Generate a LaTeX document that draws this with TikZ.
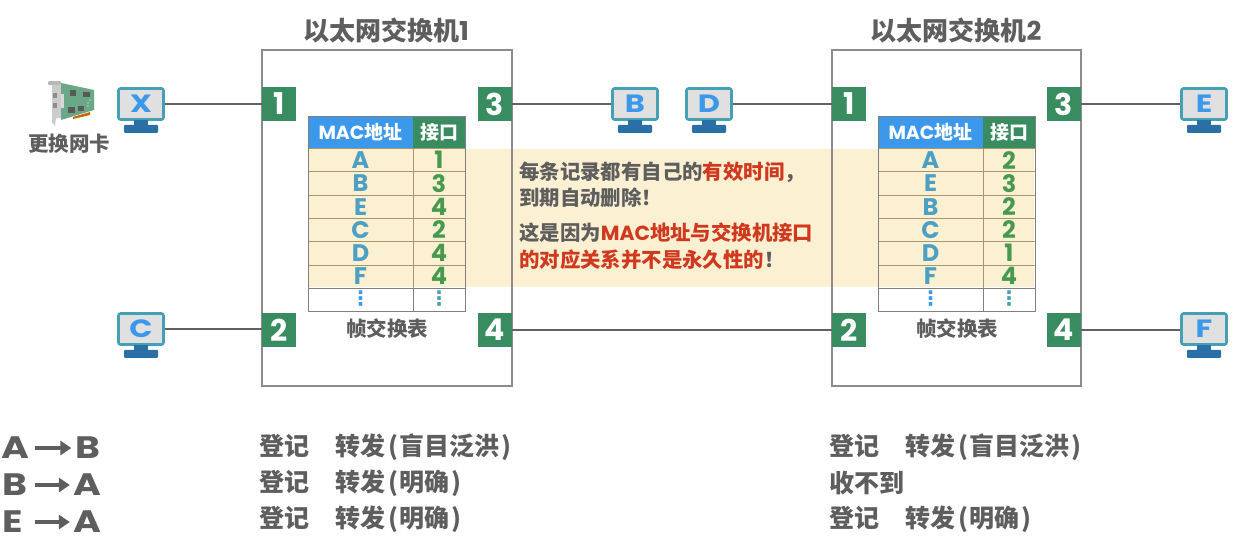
\documentclass[tikz,border=0pt]{standalone}
\usepackage{fontspec}
\usetikzlibrary{arrows.meta}
\setmainfont{Noto Sans CJK SC}
\newfontfamily\lat{Poppins}[BoldFont=* Bold]
\newfontfamily\latw{Poppins}[BoldFont=* Bold,FakeStretch=1.22]
\newfontfamily\dej{DejaVu Sans}
\definecolor{txt}{HTML}{5E5E5E}
\definecolor{hdrblue}{HTML}{3C98EA}
\definecolor{portgreen}{HTML}{398B60}
\definecolor{band}{HTML}{FBF0D2}
\definecolor{macblue}{HTML}{4E9FC4}
\definecolor{numgreen}{HTML}{46994E}
\definecolor{redt}{HTML}{D0391F}
\definecolor{scr}{HTML}{45A0B5}
\definecolor{stand}{HTML}{2A6FA6}
\definecolor{gridb}{HTML}{A8966C}
\newcommand{\mm}[1]{{\lat\bfseries #1}}
\tikzset{
  x=1pt,y=-1pt,
  switchbox/.style={draw=black!45,line width=1.1pt,fill=none},
  port/.style={fill=portgreen,text=white,minimum size=34pt,inner sep=0pt,font=\lat\fontsize{30}{30}\selectfont\bfseries},
  screen/.style={draw=scr,fill=black!12,line width=2.6pt,rounded corners=2pt,minimum width=45pt,minimum height=31pt,inner sep=0pt,text=hdrblue,font=\latw\fontsize{25}{25}\selectfont\bfseries},
  link/.style={draw=black!62,line width=1.4pt},
  hdr/.style={text=white,font=\fontsize{19}{19}\selectfont\bfseries,inner sep=0pt},
  macl/.style={text=macblue,font=\lat\fontsize{24}{24}\selectfont\bfseries,inner sep=0pt},
  numl/.style={text=numgreen,font=\lat\fontsize{24}{24}\selectfont\bfseries,inner sep=0pt},
  grey/.style={text=txt,font=\fontsize{20.5}{20.5}\selectfont\bfseries,inner sep=0pt},
  title/.style={text=txt,font=\fontsize{26}{26}\selectfont\bfseries,inner sep=0pt},
  note/.style={text=txt,font=\fontsize{20.4}{20.4}\selectfont\bfseries,inner sep=0pt,anchor=west},
  row/.style={text=txt,font=\fontsize{25}{25}\selectfont\bfseries,inner sep=0pt,anchor=west},
  big/.style={text=txt,font=\latw\fontsize{31}{31}\selectfont\bfseries,inner sep=0pt},
  flow/.style={draw=txt,line width=3.4pt,-{Triangle[length=11pt,width=14pt]}},
}
\newcommand{\pcicon}[3]{% name, position, letter
  \node[screen] (#1) at (#2) {#3};
  \fill[stand] ([xshift=-7pt,yshift=1pt]#1.south) rectangle ([xshift=7pt,yshift=-5pt]#1.south);
  \fill[stand,rounded corners=1pt] ([xshift=-17pt,yshift=-4pt]#1.south) rectangle ([xshift=17pt,yshift=-12pt]#1.south);
}
\newcommand{\frametable}[3]{% left x, letters, numbers
  \begin{scope}[shift={(#1,0)}]
    \fill[hdrblue] (0,116) rectangle (105,148);
    \fill[portgreen] (105,116) rectangle (157,148);
    \node[hdr] at (52.5,132) {\mm{MAC}地址};
    \node[hdr] at (131,132) {接口};
    \foreach \yy in {171.5,195,218,241.5,265} \draw[gridb,line width=1pt] (0,\yy) -- (157,\yy);
    \draw[gridb,line width=1pt] (105,148) -- (105,288);
    \draw[gridb,line width=1pt] (0,148) -- (157,148);
    \draw[black!50,line width=1pt] (0,116) rectangle (157,311);
    \draw[black!50,line width=1pt] (0,288) -- (157,288) (105,288) -- (105,311);
    \foreach \l [count=\i] in {#2} \node[macl] at (52.5,137+23.2*\i) {\l};
    \foreach \l [count=\i] in {#3} \node[numl] at (131,137+23.2*\i) {\l};
    \node[text=hdrblue,font=\dej\fontsize{20}{20}\selectfont\bfseries,inner sep=0pt] at (52.5,299) {⋮};
    \node[text=scr,font=\dej\fontsize{20}{20}\selectfont\bfseries,inner sep=0pt] at (131,299) {⋮};
    \node[grey] at (79,329) {帧交换表};
  \end{scope}
}
\newcommand{\fwd}[1]{登记\hspace{26pt}转发\kern3pt(\kern1.5pt#1\kern1.5pt)}
\begin{document}
\begin{tikzpicture}
\useasboundingbox (0,0) rectangle (1240,550);
\fill[white] (0,0) rectangle (1240,550);
% band
\fill[band] (308,149) rectangle (1034,287);
% switches
\draw[switchbox] (262,50) rectangle (512,386);
\draw[switchbox] (832,50) rectangle (1081,386);
\node[title] (t1) at (386,30) {以太网交换机\mm{1}};
\node[title] (t2) at (956,30) {以太网交换机\mm{2}};
% tables
\frametable{308}{A,B,E,C,D,F}{1,3,4,2,4,4}
\frametable{878}{A,E,B,C,D,F}{2,3,2,2,1,4}
% ports
\node[port] (s1p1) at (279,104) {1};
\node[port] (s1p3) at (495,104) {3};
\node[port] (s1p2) at (279,330) {2};
\node[port] (s1p4) at (495,330) {4};
\node[port] (s2p1) at (849,104) {1};
\node[port] (s2p3) at (1064,104) {3};
\node[port] (s2p2) at (849,330) {2};
\node[port] (s2p4) at (1064,330) {4};
% hosts
\pcicon{X}{141,104}{X}
\pcicon{C}{141,329}{C}
\pcicon{B}{635,104}{B}
\pcicon{D}{709,104}{D}
\pcicon{E}{1204,104}{E}
\pcicon{F}{1204,329}{F}
% links
\draw[link] (X.east) -- (s1p1.west);
\draw[link] (C.east) -- (C.east -| s1p2.west);
\draw[link] (s1p3.east) -- (B.west);
\draw[link] (D.east) -- (s2p1.west);
\draw[link] (s1p4.east) -- (s2p2.west);
\draw[link] (s2p3.east) -- (E.west);
\draw[link] (s2p4.east) -- (s2p4.east -| F.west);
% NIC
\fill[black!28,rounded corners=1pt] (48,81) rectangle (61,85);
\fill[black!20] (52,85) -- (61,85) -- (61,118) -- (56,118) -- (55,126) -- (52,122) -- cycle;
\fill[portgreen!75!white] (61,83) -- (94,90) -- (94,110) -- (61,120) -- cycle;
\fill[black!45] (53,93) rectangle (57,98);
\fill[black!45] (53,103) rectangle (57,108);
\fill[black!15] (61,94) rectangle (64,108);
\fill[black!65] (70,90) rectangle (76,96);
\fill[black!65] (83,92) rectangle (90,97);
\fill[black!65] (68,107) rectangle (75,113);
\fill[black!65] (78,106) rectangle (84,111);
\fill[white] (88,103) circle (0.7) (88,106) circle (0.7) (90,100) circle (0.7);
\fill[orange!80!black] (73,117) -- (90,112) -- (90,115) -- (73,119) -- cycle;
\node[grey] (nic) at (69,144) {更换网卡};
% note
\node[note] (n1) at (519,172) {每条记录都有自己的\textcolor{redt}{有效时间}，};
\node[note] (n2) at (519,198) {到期自动删除！};
\node[note] (n3) at (519,233) {这是因为\textcolor{redt}{\mm{MAC}地址与交换机接口}};
\node[note] (n4) at (519,260) {\textcolor{redt}{的对应关系并不是永久性的}！};
% flows
\node[big] (a1) at (15,448) {A};
\node[big] (b1) at (88,448) {B};
\node[big] (b2) at (15,485) {B};
\node[big] (a2) at (87,485) {A};
\node[big] (e3) at (13,522) {E};
\node[big] (a3) at (87,522) {A};
\draw[flow] (35,448) -- ([xshift=-4pt]b1.west);
\draw[flow] (35,485) -- ([xshift=-3pt]a2.west);
\draw[flow] (35,522) -- ([xshift=-3pt]a3.west);
% status
\node[row] at (259,447) {\fwd{盲目泛洪}};
\node[row] at (259,483) {\fwd{明确}};
\node[row] at (259,519) {\fwd{明确}};
\node[row] at (829,447) {\fwd{盲目泛洪}};
\node[row] at (829,483) {收不到};
\node[row] at (829,519) {\fwd{明确}};
\end{tikzpicture}
\end{document}
